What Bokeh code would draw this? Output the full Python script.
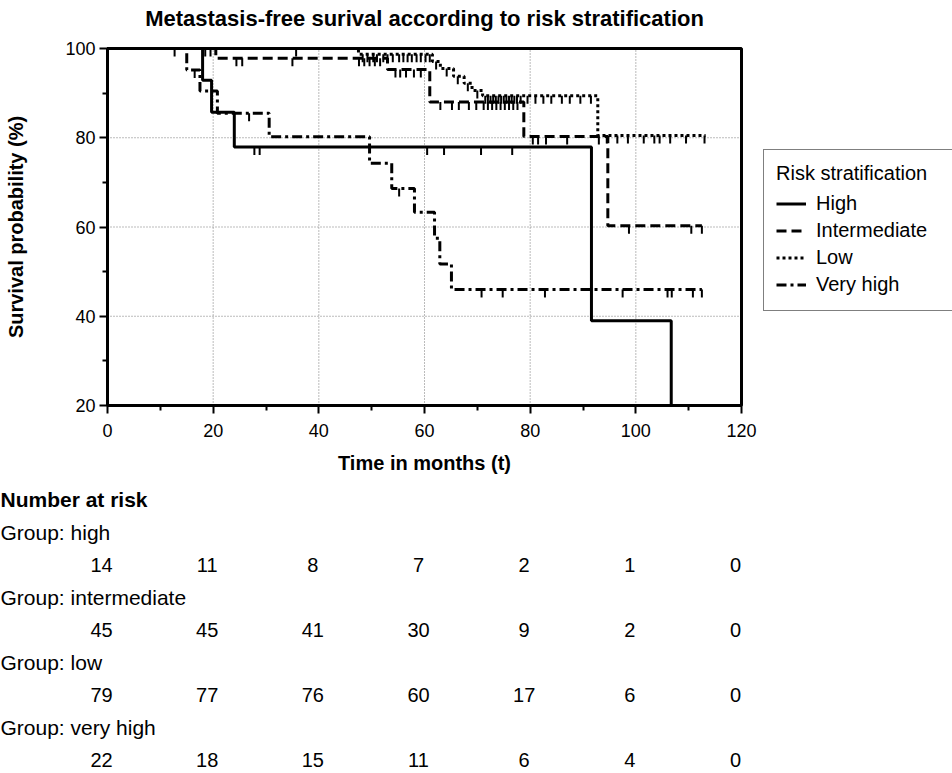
import numpy as np
from bokeh.plotting import figure
from bokeh.models import Range1d, Legend, LegendItem, FixedTicker, Label, LinearAxis
from bokeh.embed import file_html
from bokeh.resources import INLINE

# ---------------- data ----------------
time_ticks = [0, 20, 40, 60, 80, 100, 120]
surv_ticks = [20, 40, 60, 80, 100]
legend_names = ["High", "Intermediate", "Low", "Very high"]
group_names = ["high", "intermediate", "low", "very high"]

# Kaplan-Meier steps (time in months, survival %)
high_t = [0, 18.0, 19.7, 24.0, 91.6, 106.7]
high_s = [100, 92.9, 85.7, 77.9, 39.0, 0]
high_cens = [27.8, 28.8, 60.5, 63.7, 70.7, 76.6]

inter_t = [0, 20.5, 53.0, 61.0, 78.8, 94.7, 112.5]
inter_s = [100, 97.8, 95.3, 88.0, 80.3, 60.3, 60.3]
inter_cens = [24.4, 25.5, 35.0, 47.6, 48.6, 49.6, 50.6, 51.6, 54.5, 55.4, 56.5, 58.0, 59.3,
              63.0, 65.2, 66.5, 68.4, 69.8, 71.2, 72.0, 72.8, 73.6, 74.4, 75.2, 76.0, 76.8,
              77.6, 80.5, 81.5, 83.0, 87.0, 93.0, 98.7, 110.5, 112.5]

low_t = [0, 47.5, 61.5, 63.0, 65.5, 67.5, 69.0, 71.0, 92.8, 113.2]
low_s = [100, 98.7, 97.1, 95.5, 93.8, 92.2, 90.6, 89.4, 80.5, 80.5]
low_cens = [18.5, 19.5, 35.7, 48.3, 49.2, 50.3, 51.0, 52.2, 53.0, 54.0, 55.2, 56.0, 56.8,
            57.6, 58.5, 59.3, 60.2, 61.0, 62.2, 64.2, 66.3, 68.2, 70.0, 71.5, 72.0, 72.5,
            73.0, 73.5, 74.0, 74.5, 75.0, 75.5, 76.0, 76.5, 77.0, 77.5, 78.2, 79.5, 81.0,
            82.5, 84.0, 86.0, 87.5, 89.5, 91.5, 94.5, 96.5, 98.5, 101.5, 103.5, 104.5,
            106.5, 109.5, 113.0]

vh_t = [0, 15.0, 17.5, 20.8, 30.6, 49.6, 53.8, 58.1, 61.9, 62.9, 65.1, 112.5]
vh_s = [100, 95.2, 90.5, 85.5, 80.2, 74.3, 68.6, 63.3, 57.5, 51.7, 46.0, 46.0]
vh_cens = [12.7, 16.5, 26.8, 55.2, 70.8, 74.8, 82.8, 97.5, 106.0, 106.8, 110.8, 112.5]

at_risk_high = [14, 11, 8, 7, 2, 1, 0]
at_risk_inter = [45, 45, 41, 30, 9, 2, 0]
at_risk_low = [79, 77, 76, 60, 17, 6, 0]
at_risk_vh = [22, 18, 15, 11, 6, 4, 0]

# ---------------- style / layout (pixels) ----------------
FONT = "Liberation Sans"
W, H = 952, 773
FRAME_L, FRAME_R = 107, 741     # plot box in canvas pixels
FRAME_T, FRAME_B = 48, 405
TITLE_Y = 18
TABLE_FIRST = 499
TABLE_STEP = 32.6
TICK_PX = 8
LEG_LEFT, LEG_TOP, LEG_H = 763, 148, 163

styles = ["solid", "10 5", "3 3", "10 4 3 4"]

x_lo, x_hi = time_ticks[0], time_ticks[-1]
y_lo, y_hi = surv_ticks[0], surv_ticks[-1]
ppx = (FRAME_R - FRAME_L) / (x_hi - x_lo)
ppy = (FRAME_B - FRAME_T) / (y_hi - y_lo)


def surv_at(ts, ss, t):
    idx = np.searchsorted(np.asarray(ts), t, side="right") - 1
    return float(ss[max(idx, 0)])


# the frame covers the whole canvas; the plot box is placed through the ranges
p = figure(width=W, height=H,
           x_range=Range1d(x_lo - FRAME_L / ppx, x_lo + (W - FRAME_L) / ppx),
           y_range=Range1d(y_lo - (H - FRAME_B) / ppy, y_hi + FRAME_T / ppy),
           output_backend="svg", toolbar_location=None,
           x_axis_type=None, y_axis_type=None,
           min_border=0, min_border_left=0, min_border_right=0,
           min_border_top=0, min_border_bottom=0)
p.outline_line_color = None
p.background_fill_color = "white"
p.border_fill_color = "white"

minor_x = [(a + b) / 2 for a, b in zip(time_ticks[:-1], time_ticks[1:])]
minor_y = [(a + b) / 2 for a, b in zip(surv_ticks[:-1], surv_ticks[1:])]

xaxis = LinearAxis(fixed_location=y_lo, bounds=(x_lo, x_hi),
                   ticker=FixedTicker(ticks=time_ticks, minor_ticks=minor_x),
                   axis_label="Time in months (t)")
yaxis = LinearAxis(fixed_location=x_lo, bounds=(y_lo, y_hi),
                   ticker=FixedTicker(ticks=surv_ticks, minor_ticks=minor_y),
                   axis_label="Survival probability (%)")
for ax in (xaxis, yaxis):
    ax.axis_line_width = 3
    ax.axis_line_color = "black"
    ax.major_tick_line_width = 2
    ax.minor_tick_line_width = 2
    ax.major_tick_out = 8
    ax.major_tick_in = 0
    ax.minor_tick_out = 5
    ax.minor_tick_in = 0
    ax.major_label_text_font = FONT
    ax.major_label_text_font_size = "18px"
    ax.major_label_text_color = "black"
    ax.axis_label_text_font = FONT
    ax.axis_label_text_font_size = "20px"
    ax.axis_label_text_font_style = "bold"
    ax.axis_label_text_color = "black"
xaxis.major_label_standoff = 10
yaxis.major_label_standoff = 4
xaxis.axis_label_standoff = 12
yaxis.axis_label_standoff = 35
p.add_layout(xaxis, "below")
p.add_layout(yaxis, "left")

# dotted grid at the inner major ticks
gx = time_ticks[1:-1]
gy = surv_ticks[1:-1]
p.segment(x0=gx, y0=[y_lo] * len(gx), x1=gx, y1=[y_hi] * len(gx),
          line_color="#777777", line_dash="1 2", line_width=1)
p.segment(x0=[x_lo] * len(gy), y0=gy, x1=[x_hi] * len(gy), y1=gy,
          line_color="#777777", line_dash="1 2", line_width=1)

# plot box
p.quad(left=[x_lo], right=[x_hi], bottom=[y_lo], top=[y_hi],
       fill_alpha=0, line_color="black", line_width=3)

curves = [(high_t, high_s, high_cens), (inter_t, inter_s, inter_cens),
          (low_t, low_s, low_cens), (vh_t, vh_s, vh_cens)]
tick_len = TICK_PX / ppy
renderers = []
for (ts, ss, cs), dash in zip(curves, styles):
    shown = list(np.maximum(ss, y_lo))   # the box stops at the axis minimum
    r = p.step(ts, shown, mode="after", line_color="black", line_width=3, line_dash=dash)
    renderers.append(r)
    cy = [surv_at(ts, ss, c) for c in cs]
    p.segment(x0=cs, y0=cy, x1=cs, y1=[v - tick_len for v in cy],
              line_color="black", line_width=2)

# title
p.add_layout(Label(x=(x_lo + x_hi) / 2, y=H - TITLE_Y, x_units="data", y_units="screen",
                   text="Metastasis-free surival according to risk stratification",
                   text_font=FONT, text_font_size="22px", text_font_style="bold",
                   text_align="center", text_baseline="middle", text_color="black"))

legend = Legend(items=[LegendItem(label=n, renderers=[r]) for n, r in zip(legend_names, renderers)],
                location=(LEG_LEFT, H - LEG_TOP - LEG_H), title="Risk stratification")
legend.title_text_font = FONT
legend.title_text_font_size = "20px"
legend.title_text_font_style = "normal"
legend.title_text_color = "black"
legend.title_standoff = 5
legend.label_text_font = FONT
legend.label_text_font_size = "20px"
legend.label_text_color = "black"
legend.glyph_width = 30
legend.glyph_height = 27
legend.label_height = 27
legend.label_width = 150
legend.label_standoff = 10
legend.spacing = 0
legend.padding = 12
legend.margin = 0
legend.border_line_color = "black"
legend.border_line_width = 1
legend.background_fill_alpha = 1
p.add_layout(legend)

# ---------------- number-at-risk table ----------------
def row_y(i):
    return H - (TABLE_FIRST + i * TABLE_STEP)


p.add_layout(Label(x=0, y=row_y(0), x_units="screen", y_units="screen",
                   text="Number at risk", text_font=FONT, text_font_size="21px",
                   text_font_style="bold", text_baseline="middle", text_align="left",
                   text_color="black"))
rows = [at_risk_high, at_risk_inter, at_risk_low, at_risk_vh]
for i, (gname, counts) in enumerate(zip(group_names, rows)):
    p.add_layout(Label(x=0, y=row_y(1 + 2 * i), x_units="screen", y_units="screen",
                       text="Group: " + gname, text_font=FONT, text_font_size="21px",
                       text_baseline="middle", text_align="left", text_color="black"))
    for tt, c in zip(time_ticks, counts):
        p.add_layout(Label(x=tt, y=row_y(2 + 2 * i), x_units="data", y_units="screen",
                           x_offset=-6, text=str(c), text_font=FONT, text_font_size="20px",
                           text_baseline="middle", text_align="center", text_color="black"))

open("out.html", "w").write(file_html(p, INLINE))
